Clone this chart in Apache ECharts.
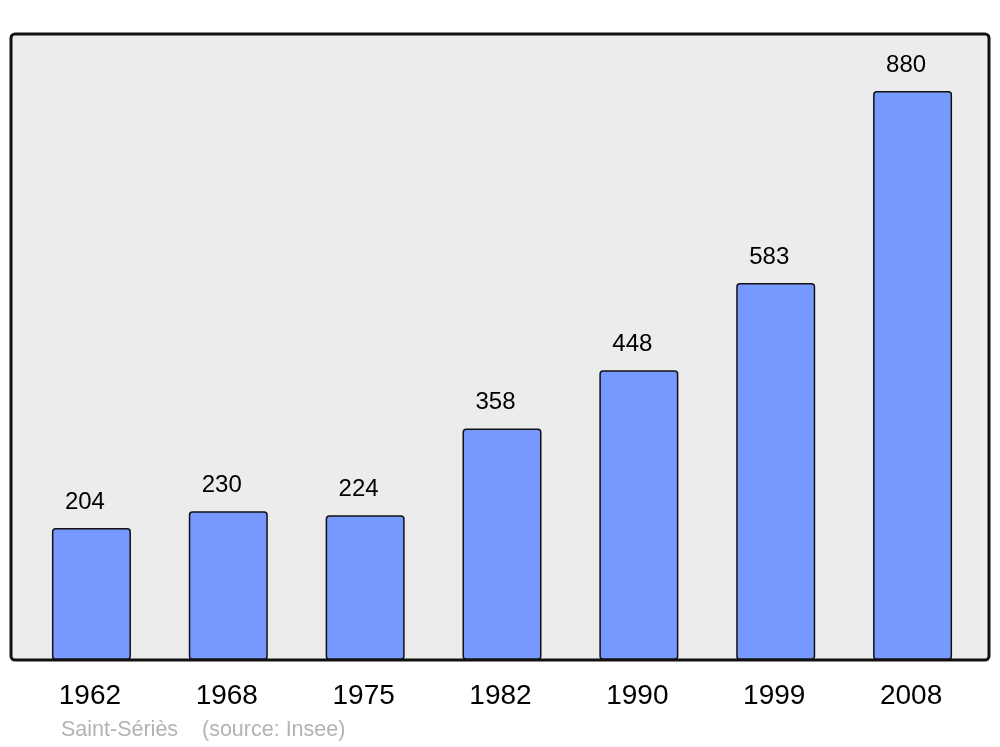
<!DOCTYPE html>
<html>
<head>
<meta charset="utf-8">
<script src="https://cdn.jsdelivr.net/npm/echarts@6/dist/echarts.min.js"></script>
<style>
html,body{margin:0;padding:0;background:#fff;}
#chart{width:1000px;height:747px;}
</style>
</head>
<body>
<div id="chart"></div>
<script>
const years = ['1962', '1968', '1975', '1982', '1990', '1999', '2008'];
const population = [204, 230, 224, 358, 448, 583, 880];
const footnote = 'Saint-Sériès    (source: Insee)';

const chart = echarts.init(document.getElementById('chart'), null, {renderer: 'canvas'});
chart.setOption({
  animation: false,
  backgroundColor: '#ffffff',
  textStyle: {fontFamily: 'Liberation Sans, Arial, sans-serif'},
  grid: {left: 23, right: 19, top: 34, bottom: 87, containLabel: false},
  xAxis: {
    type: 'category',
    data: years,
    axisLine: {show: false},
    axisTick: {show: false},
    axisLabel: {fontSize: 28, color: '#000', margin: 22, padding: [0, 3, 0, 0], fontFamily: 'Liberation Sans, Arial, sans-serif'}
  },
  yAxis: {
    type: 'value',
    min: 0,
    max: 968,
    show: false,
    splitLine: {show: false}
  },
  series: [{
    type: 'bar',
    data: population,
    barWidth: 79,
    itemStyle: {color: '#7799ff', borderColor: '#111', borderWidth: 1.5, borderRadius: 3},
    label: {show: true, position: 'top', distance: 14, offset: [-6.5, 0], fontSize: 24, color: '#000', fontFamily: 'Liberation Sans, Arial, sans-serif'},
    z: 5
  }],
  graphic: [
    {type: 'rect', z: -10, shape: {x: 11, y: 34, width: 978, height: 626, r: 4}, style: {fill: '#ececec', stroke: null}},
    {type: 'rect', z: 100, shape: {x: 11, y: 34, width: 978, height: 626, r: 4}, style: {fill: null, stroke: '#111', lineWidth: 3}},
    {type: 'text', z: 100, x: 61, y: 730, style: {text: footnote, fill: '#b3b3b3', verticalAlign: 'middle', font: '21.5px "Liberation Sans", Arial, sans-serif'}}
  ]
});
</script>
</body>
</html>
